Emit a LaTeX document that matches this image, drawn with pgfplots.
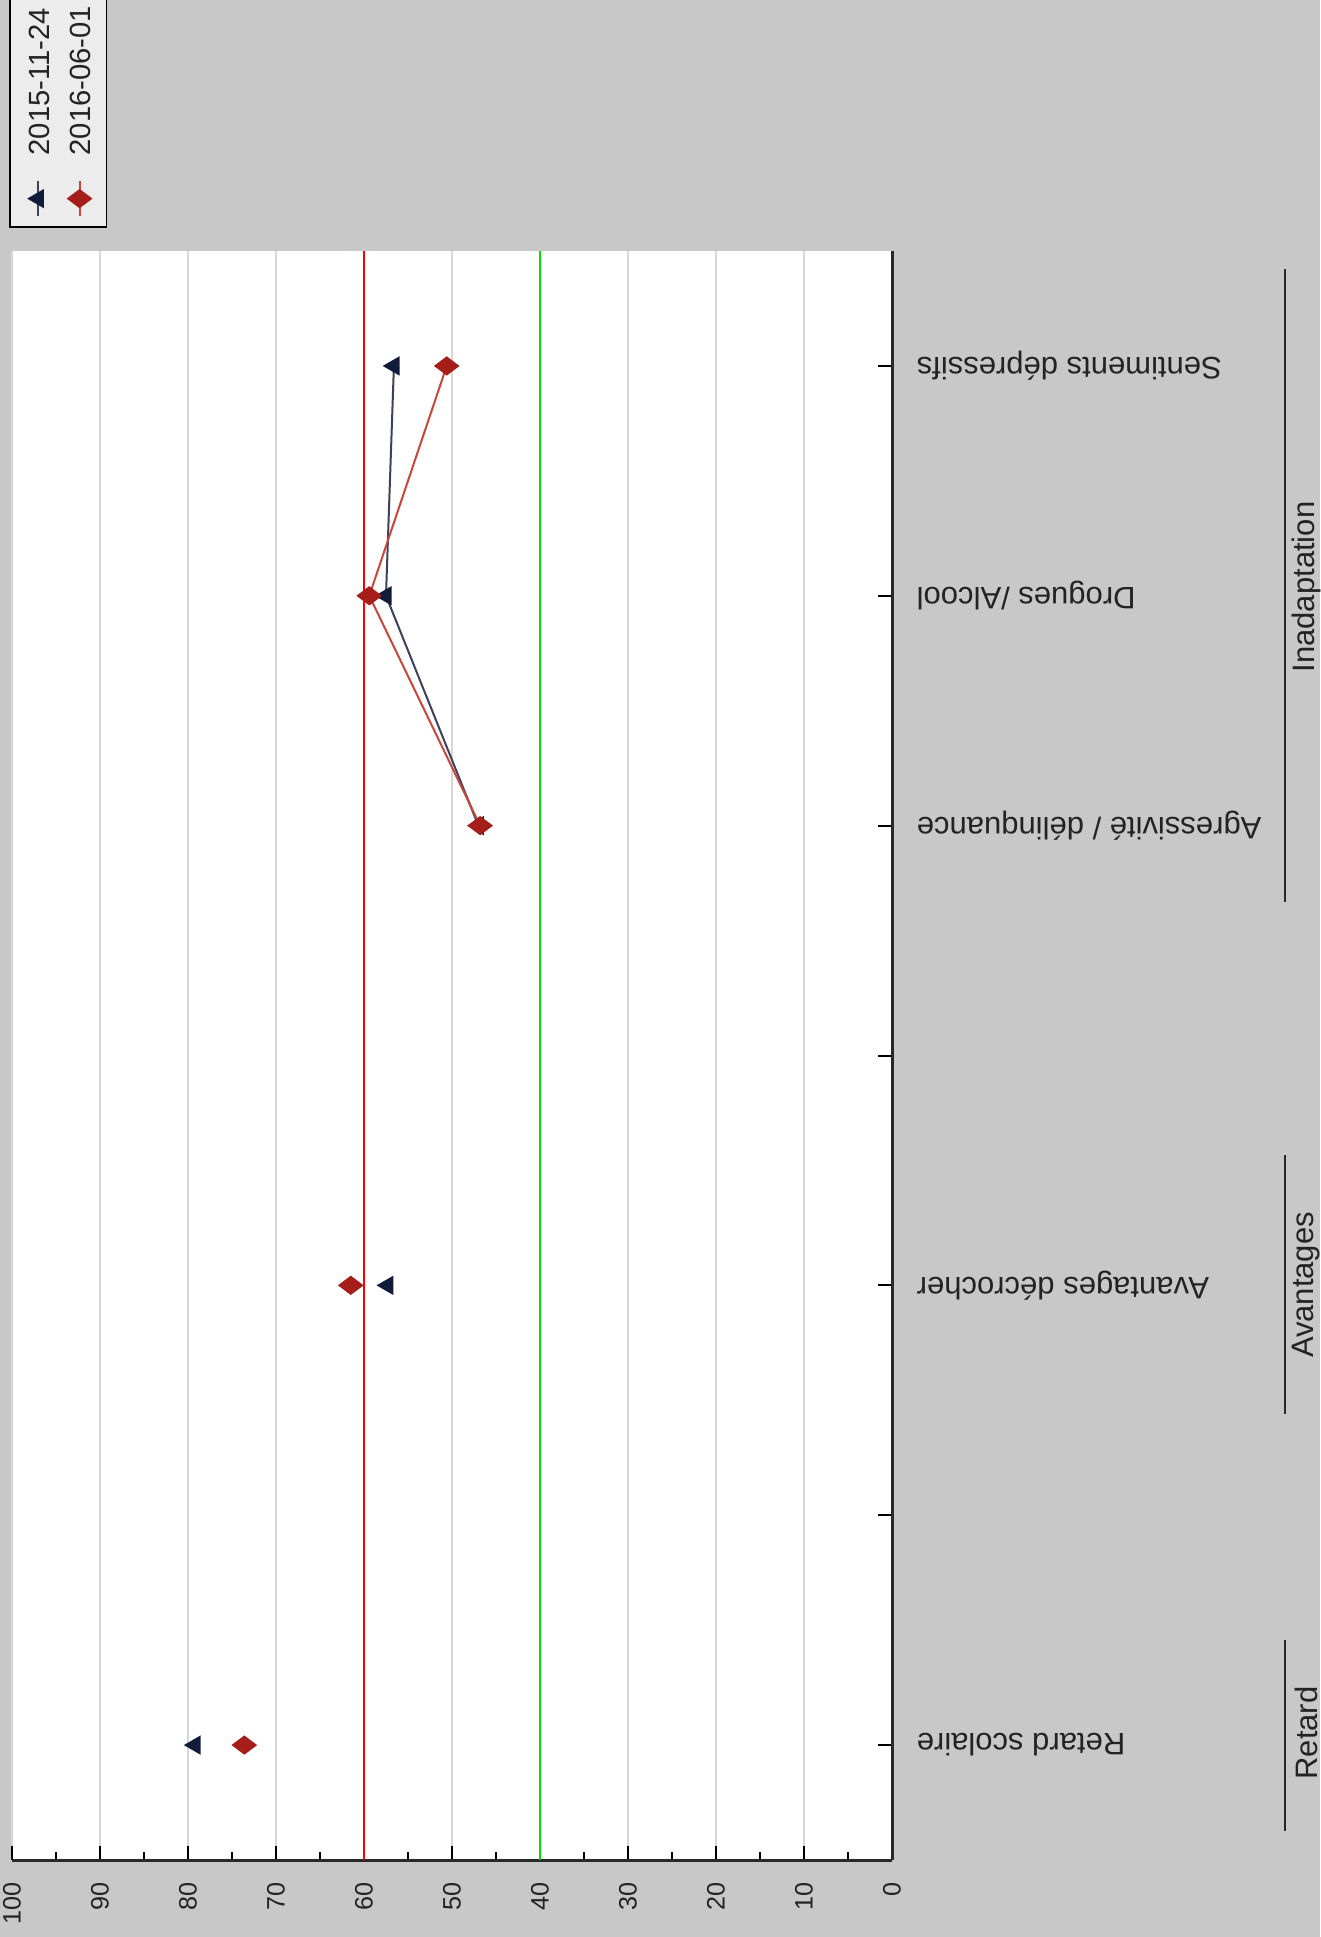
\documentclass[border=0pt]{standalone}
\usepackage{fontspec}
\setmainfont{Liberation Sans}
\usepackage{pgfplots}
\pgfplotsset{compat=1.18}
\definecolor{bg}{RGB}{200,200,200}
\definecolor{gridc}{RGB}{215,215,215}
\definecolor{navyser}{RGB}{16,28,58}
\definecolor{navyline}{RGB}{60,66,90}
\definecolor{redser}{RGB}{165,30,25}
\definecolor{redline}{RGB}{200,70,60}
\definecolor{axisc}{RGB}{40,40,40}
\definecolor{txt}{RGB}{35,35,35}
\definecolor{legfill}{RGB}{236,236,236}
\definecolor{seuilvert}{RGB}{0,220,0}

\begin{document}
\begin{tikzpicture}
\fill[bg] (0,0) rectangle (330pt,-484.25pt);
\path[use as bounding box] (0,0) rectangle (330pt,-484.25pt);
\begin{axis}[
  at={(113pt,-263.875pt)}, anchor=center,
  width=220pt, height=402.25pt, scale only axis,
  x dir=reverse,
  xmin=0, xmax=100, ymin=0.5, ymax=7.5,
  axis x line*=bottom, axis y line*=right,
  axis background/.style={fill=white},
  axis line style={axisc, line width=0.75pt},
  xtick={0,10,...,100}, minor x tick num=1,
  ytick={1,...,7},
  yticklabels={Retard scolaire,,Avantages décrocher,,Agressivité / délinquance,Drogues /Alcool,Sentiments dépressifs},
  tick align=inside,
  major tick length=3.5pt, minor tick length=2pt,
  tick style={black, line width=0.5pt},
  xmajorgrids, major x grid style={gridc, line width=0.4pt},
  /pgf/number format/assume math mode=true,
  xticklabel style={rotate=90, anchor=east, font=\fontsize{6.3}{7}\selectfont, text=txt, inner sep=0pt},
  xticklabel shift=5.5pt,
  yticklabel style={rotate=180, anchor=east, font=\fontsize{7.75}{9}\selectfont, text=txt, inner sep=0pt},
  yticklabel shift=6pt,
  legend columns=2,
  legend image code/.code={%
    \path[draw=none, fill=none] (0pt,0pt) -- (0pt,-13.75pt);
    \draw[overlay, mark repeat=2, mark phase=2, #1] plot coordinates {(5.15pt,-4.25pt) (5.15pt,-8.6pt) (5.15pt,-13pt)};},
  legend style={at={(-0.0034,1.0143)}, anchor=south west, fill=legfill, draw=black,
    inner sep=2pt, column sep=0.4pt, font=\fontsize{7.3}{8.5}\selectfont, text=txt,
    nodes={rotate=90, anchor=west, text height=5.5pt, text depth=0pt, inner sep=2pt}},
]
\addplot[navyline, line width=0.5pt, mark=triangle*, mark size=2.3pt, mark options={rotate=90, fill=navyser, draw=navyser}, unbounded coords=jump, forget plot]
  coordinates {(79.2,1) (nan,2) (57.3,3) (nan,4) (47.0,5) (57.5,6) (56.6,7)};
\addplot[redline, line width=0.5pt, mark=diamond*, mark size=2.8pt, mark options={rotate=90, fill=redser, draw=redser}, unbounded coords=jump, forget plot]
  coordinates {(73.6,1) (nan,2) (61.5,3) (nan,4) (46.8,5) (59.4,6) (50.6,7)};
\addplot[red, line width=0.6pt, forget plot] coordinates {(60,0.5) (60,7.5)};
\addplot[seuilvert, line width=0.6pt, forget plot] coordinates {(40,0.5) (40,7.5)};
\addlegendimage{navyline, line width=0.5pt, mark=triangle*, mark size=2.3pt, mark options={rotate=90, fill=navyser, draw=navyser}}
\addlegendentry{2015-11-24}
\addlegendimage{redline, line width=0.5pt, mark=diamond*, mark size=2.8pt, mark options={rotate=90, fill=redser, draw=redser}}
\addlegendentry{2016-06-01}
\end{axis}
\draw[axisc, line width=0.5pt] (321.25pt,-67.25pt) -- (321.25pt,-225.5pt);
\draw[axisc, line width=0.5pt] (321.25pt,-288.75pt) -- (321.25pt,-353.5pt);
\draw[axisc, line width=0.5pt] (321.25pt,-410pt) -- (321.25pt,-457.75pt);
\node[rotate=90, font=\fontsize{7.75}{9}\selectfont, text=txt] at (326.5pt,-146.75pt) {Inadaptation};
\node[rotate=90, font=\fontsize{7.75}{9}\selectfont, text=txt] at (326.5pt,-321.25pt) {Avantages};
\node[rotate=90, font=\fontsize{7.75}{9}\selectfont, text=txt] at (326.5pt,-433.25pt) {Retard};
\end{tikzpicture}
\end{document}
